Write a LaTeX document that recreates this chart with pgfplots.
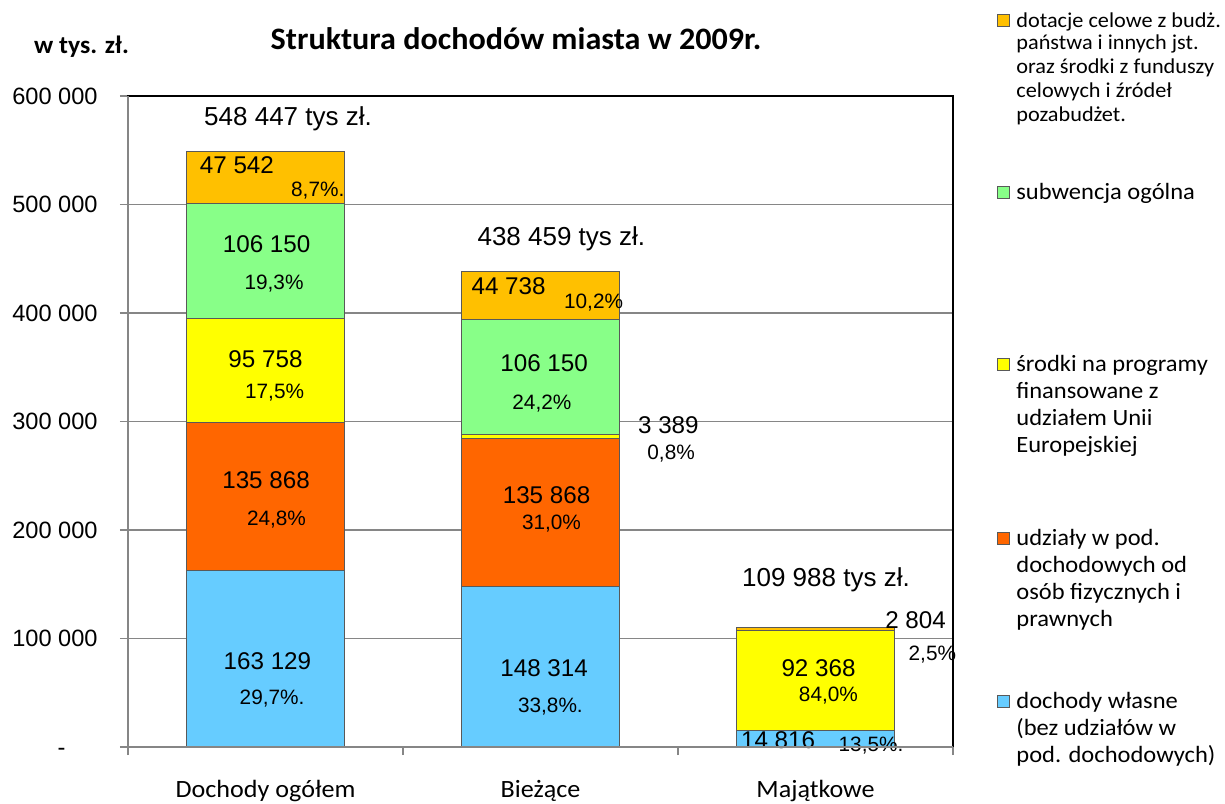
\documentclass[border=0pt]{standalone}
\usepackage{pgfplots}
\pgfplotsset{compat=1.18}
\usepackage{fontspec}
\setmainfont{Liberation Sans}
\newfontfamily\calfont{Carlito}[FakeStretch=1.05]
\newfontfamily\titlefont{Carlito}[FakeStretch=1.03]
\definecolor{cblue}{HTML}{66CCFF}
\definecolor{corange}{HTML}{FF6600}
\definecolor{cyellow}{HTML}{FFFF00}
\definecolor{cgreen}{HTML}{88FF88}
\definecolor{cgold}{HTML}{FFC000}
\definecolor{gridgray}{HTML}{868686}
\definecolor{edge}{HTML}{595959}
\newcommand\fv{\fontsize{12.1}{14}\selectfont}
\newcommand\fp{\fontsize{10.4}{12}\selectfont}
\newcommand\ft{\fontsize{13}{15}\selectfont}
\newcommand\legsq[2]{\draw[draw=edge, fill=#1, line width=0.5pt] ({997*0.5pt},{(803-(#2-1))*0.5pt}) rectangle ({1009*0.5pt},{(803-(#2-13))*0.5pt});}
\newcommand\legline[2]{\node[anchor=base west, inner sep=0pt, font={\calfont\fontsize{11.67}{13}\selectfont}] at ({1016*0.5pt},{(803-#1)*0.5pt}) {#2};}
\newcommand\leglines[2]{\node[anchor=base west, inner sep=0pt, font={\calfont\fontsize{10.6}{12}\selectfont}] at ({1016*0.5pt},{(803-#1)*0.5pt}) {#2};}
\newcommand\lab[4]{\node[font=#1, anchor=base] at (axis cs:#2,#3) {#4};}
\begin{document}
\begin{tikzpicture}
\path[use as bounding box] (0,0) rectangle (612.5pt,401.5pt);
\begin{axis}[
  at={(64pt,28pt)}, anchor=south west,
  scale only axis, width=412.5pt, height=325.5pt,
  ybar stacked, bar width=0.575,
  clip=false,
  xmin=-0.5, xmax=2.5, ymin=0, ymax=600000,
  axis line style={black, line width=0.8pt},
  xtick pos=bottom, ytick pos=left,
  xtick={0,1,2},
  xticklabels={Dochody ogółem,Bieżące,Majątkowe},
  x tick style={draw=none},
  major tick length=4pt,
  tick align=outside,
  xticklabel style={font={\calfont\fontsize{12.43}{14}\selectfont}, anchor=base, yshift=-21pt},
  extra x ticks={-0.5,0.5,1.5,2.5},
  extra x tick labels={},
  extra x tick style={x tick style={draw=gridgray, line width=0.8pt}, grid=none},
  ytick={0,100000,200000,300000,400000,500000,600000},
  yticklabels={{-\hspace{16pt}\vphantom{0}},100 000,200 000,300 000,400 000,500 000,600 000},
  y tick style={draw=gridgray, line width=0.8pt},
  yticklabel style={font=\fontsize{11.8}{14}\selectfont, anchor=east, inner sep=0pt, xshift=-11pt},
  ymajorgrids, grid style={gridgray, line width=0.6pt},
  scaled y ticks=false,
  after end axis/.code={
    % Dochody ogolem
    \lab{\ft}{0.082}{572350}{548 447 tys zł.}
    \lab{\fv}{-0.104}{528750}{47 542}
    \lab{\fp}{0.19}{507830}{8,7\%.}
    \lab{\fv}{0.004}{455300}{106 150}
    \lab{\fp}{0.031}{421200}{19,3\%}
    \lab{\fv}{0}{350230}{95 758}
    \lab{\fp}{0.033}{321660}{17,5\%}
    \lab{\fv}{0.002}{237790}{135 868}
    \lab{\fp}{0.04}{203690}{24,8\%}
    \lab{\fv}{0.007}{71610}{163 129}
    \lab{\fp}{0.024}{39630}{29,7\%.}
    % Biezace
    \lab{\ft}{1.076}{462670}{438 459 tys zł.}
    \lab{\fv}{0.884}{417510}{44 738}
    \lab{\fp}{1.193}{404330}{10,2\%}
    \lab{\fv}{1.013}{345900}{106 150}
    \lab{\fp}{1.005}{310600}{24,2\%}
    \lab{\fv}{1.465}{289120}{3 389}
    \lab{\fp}{1.475}{265160}{0,8\%}
    \lab{\fv}{1.022}{224880}{135 868}
    \lab{\fp}{1.04}{200920}{31,0\%}
    \lab{\fv}{1.013}{64520}{148 314}
    \lab{\fp}{1.036}{32260}{33,8\%.}
    % Majatkowe
    \lab{\ft}{2.038}{147470}{109 988 tys zł.}
    \lab{\fv}{2.364}{108760}{2 804}
    \lab{\fp}{2.425}{80180}{2,5\%}
    \lab{\fv}{2.011}{64790}{92 368}
    \lab{\fp}{2.047}{41750}{84,0\%}
    \lab{\fv}{1.864}{-920}{14 816}
    \lab{\fp}{2.202}{-4330}{13,5\%.}
  },
]
\addplot[fill=cblue, draw=edge, line width=0.5pt] coordinates {(0,163129) (1,148314) (2,14816)};
\addplot[fill=corange, draw=edge, line width=0.5pt] coordinates {(0,135868) (1,135868) (2,0)};
\addplot[fill=cyellow, draw=edge, line width=0.5pt] coordinates {(0,95758) (1,3389) (2,92368)};
\addplot[fill=cgreen, draw=edge, line width=0.5pt] coordinates {(0,106150) (1,106150) (2,0)};
\addplot[fill=cgold, draw=edge, line width=0.5pt] coordinates {(0,47542) (1,44738) (2,2804)};
\end{axis}
% gray left and bottom axis lines
\draw[gridgray, line width=0.8pt] ({128*0.5pt},{(803-96)*0.5pt}) -- ({128*0.5pt},{(803-747)*0.5pt}) -- ({953*0.5pt},{(803-747)*0.5pt});
% titles
\node[anchor=base, inner sep=0pt, font={\titlefont\bfseries\fontsize{15.6}{18}\selectfont}] at ({516*0.5pt},{(803-50)*0.5pt}) {Struktura dochodów miasta w 2009r.};
\node[anchor=base, inner sep=0pt, font={\titlefont\bfseries\fontsize{12.5}{14}\selectfont}] at ({81.5*0.5pt},{(803-54)*0.5pt}) {w tys. zł.};
% legend
\legsq{cgold}{27.7}
\leglines{27.7}{dotacje celowe z budż.}
\leglines{50}{państwa i innych jst.}
\leglines{74}{oraz środki z funduszy}
\leglines{98}{celowych i źródeł}
\leglines{121.5}{pozabudżet.}
\legsq{cgreen}{200}
\legline{200}{subwencja ogólna}
\legsq{cyellow}{372}
\legline{372}{środki na programy}
\legline{398.5}{finansowane z}
\legline{425.5}{udziałem Unii}
\legline{452.5}{Europejskiej}
\legsq{corange}{546}
\legline{546}{udziały w pod.}
\legline{573}{dochodowych od}
\legline{600}{osób fizycznych i}
\legline{626.5}{prawnych}
\legsq{cblue}{708}
\legline{708}{dochody własne}
\legline{735}{(bez udziałów w}
\legline{762}{pod. dochodowych)}
\end{tikzpicture}
\end{document}
